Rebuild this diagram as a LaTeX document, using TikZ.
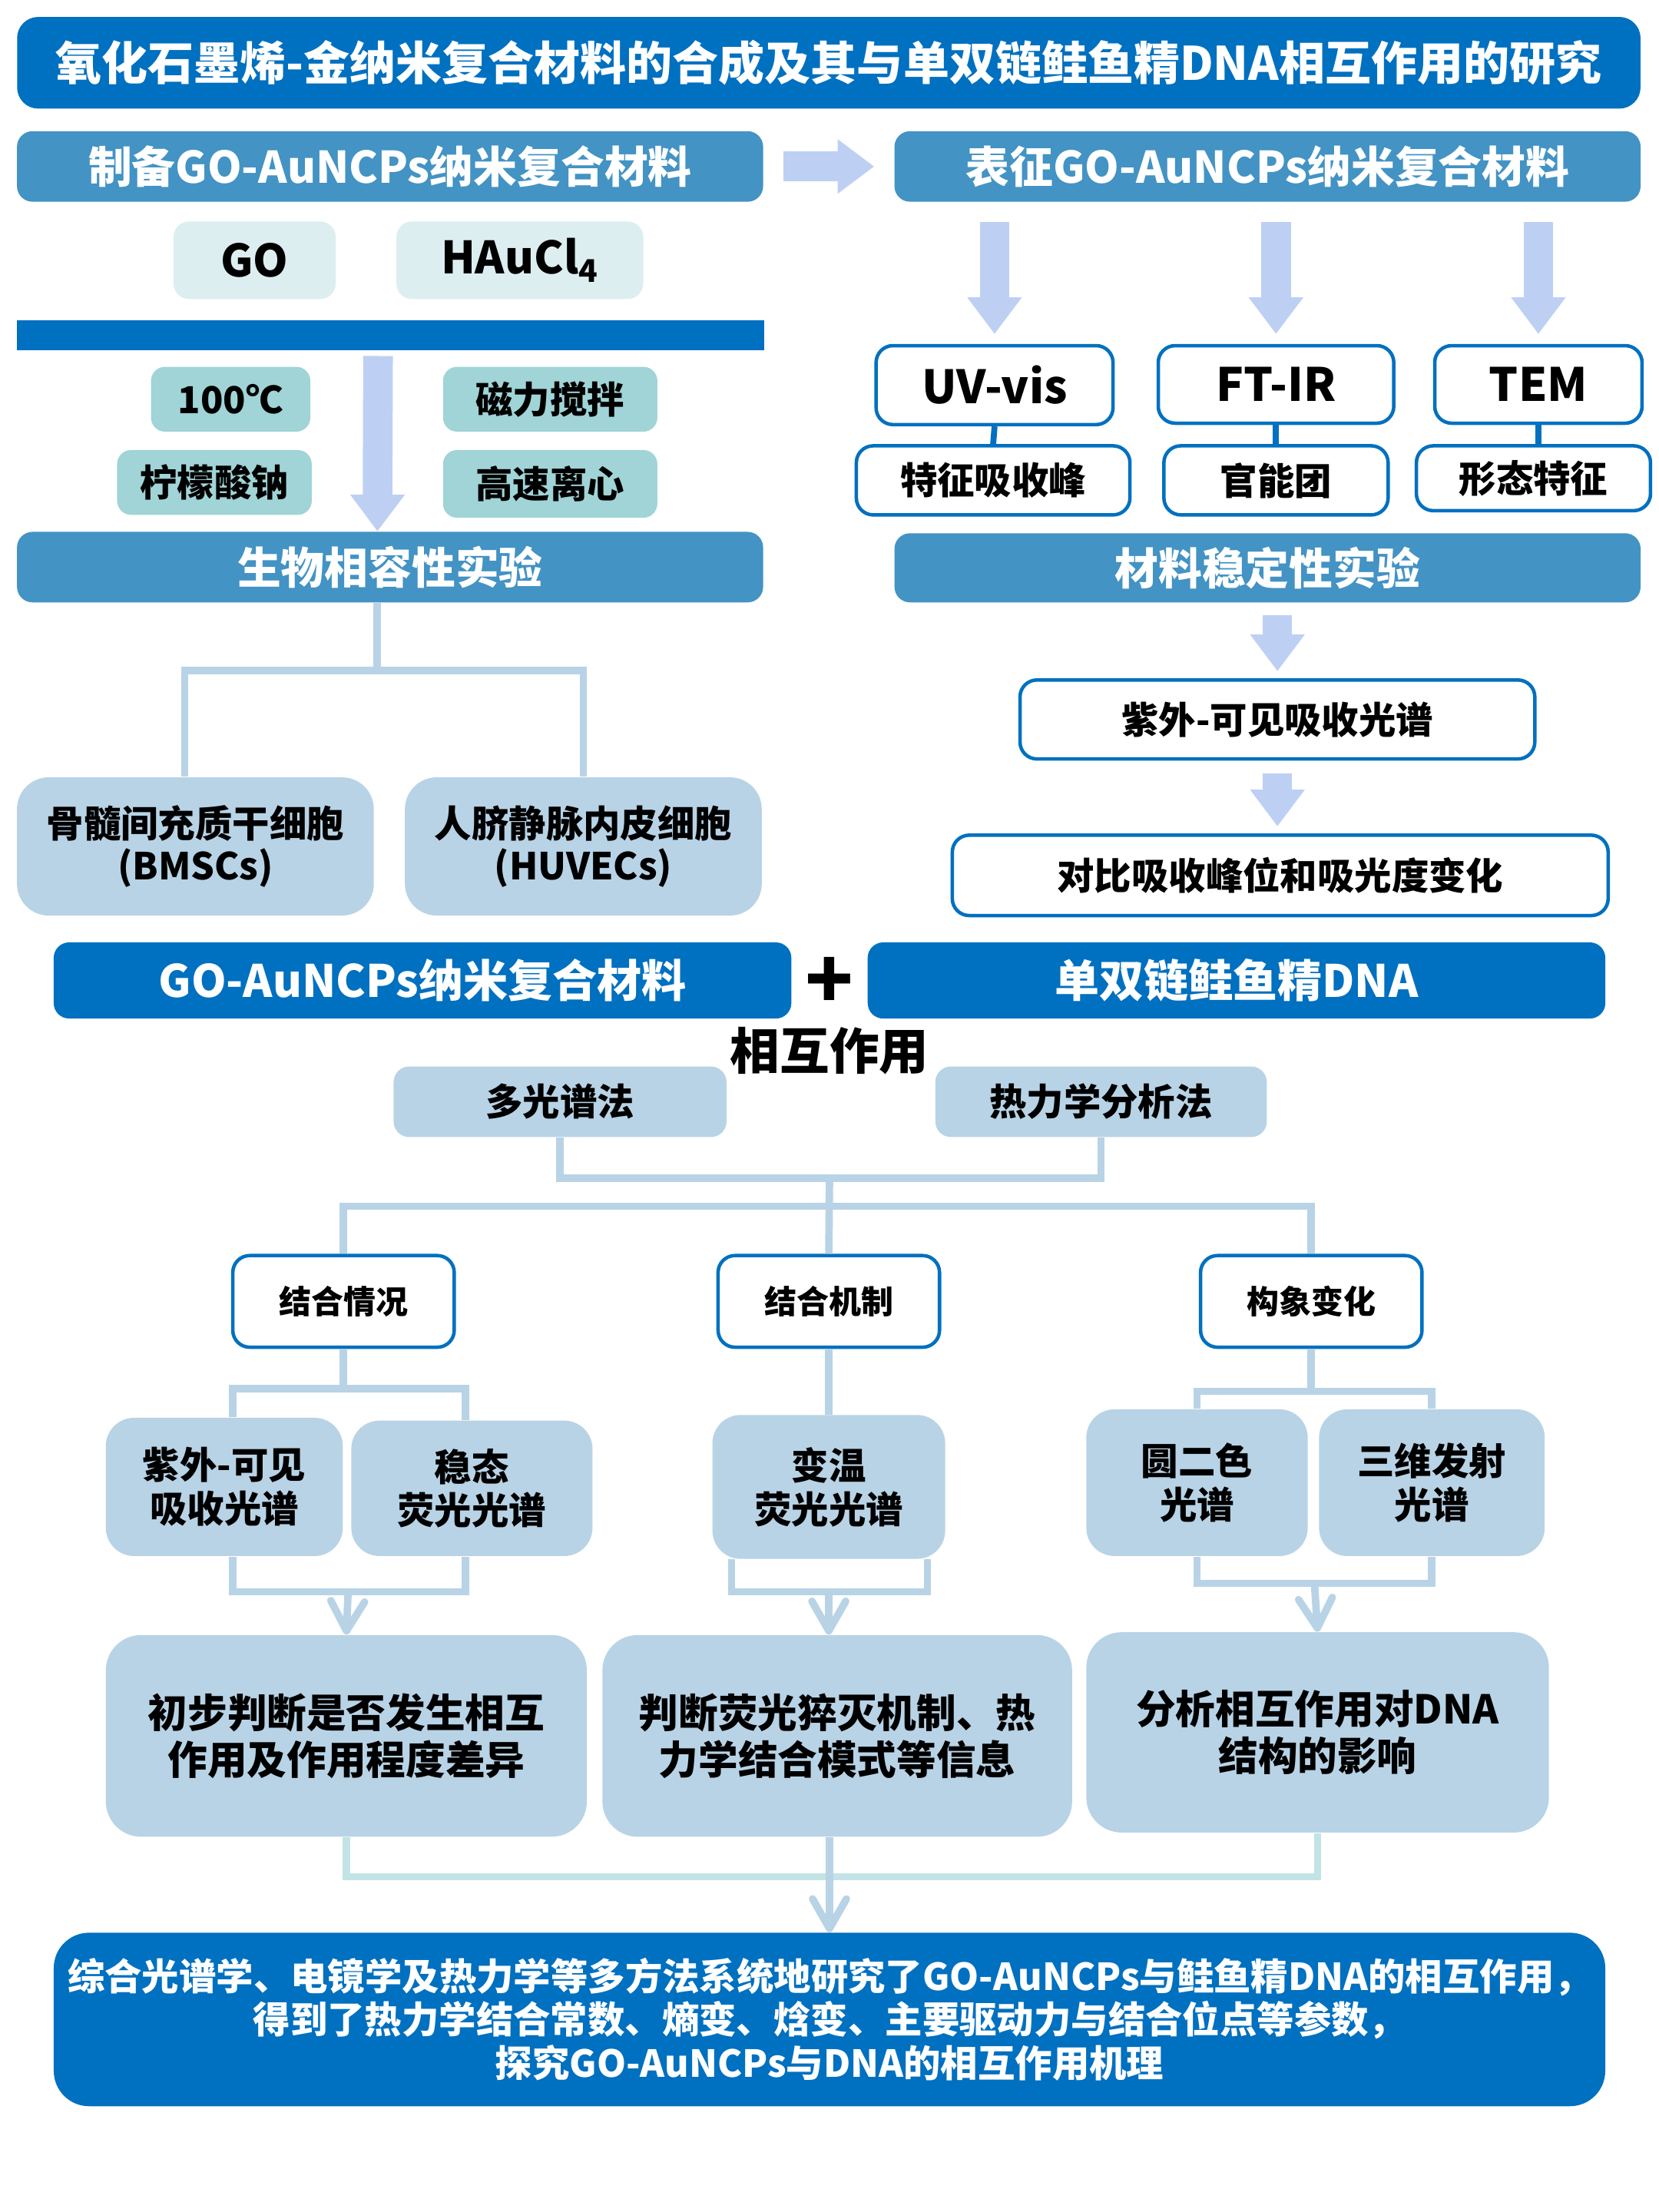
\documentclass[tikz,border=0pt]{standalone}
\usepackage{fontspec}
\setmainfont{Noto Sans CJK SC}
\usetikzlibrary{arrows.meta,calc}
\definecolor{deepblue}{HTML}{0070C0}
\definecolor{midblue}{HTML}{4393C4}
\definecolor{arrowblue}{HTML}{BDD0F4}
\definecolor{paleblue}{HTML}{B8D3E6}
\definecolor{palecyan}{HTML}{DCEEF0}
\definecolor{tealbox}{HTML}{A0D4D7}
\definecolor{paleteal}{HTML}{C3E4E6}
\tikzset{
  fs/.style 2 args={font=\fontsize{#1}{#2}\selectfont\bfseries},
  titlebox/.style={fill=deepblue,text=white,rounded corners=0.3cm,fs={18.6}{22}},
  hdr/.style={fill=midblue,text=white,rounded corners=0.22cm,minimum width=10.58cm,minimum height=1cm,fs={17.6}{20}},
  bluebar/.style={fill=deepblue,text=white,rounded corners=0.22cm,minimum width=10.46cm,minimum height=1.08cm,fs={18}{20}},
  rawbox/.style={fill=palecyan,rounded corners=0.22cm,minimum height=1.1cm,fs={18}{20}},
  cond/.style={fill=tealbox,rounded corners=0.2cm,minimum height=0.92cm,fs={15}{17}},
  cellbox/.style={fill=paleblue,rounded corners=0.45cm,minimum width=5.06cm,minimum height=1.96cm,fs={15}{17}},
  wbox/.style={draw=deepblue,line width=1.4pt,fill=white,rounded corners=0.24cm,fs={15}{17}},
  lbox/.style={fill=paleblue,rounded corners=0.4cm,fs={15}{17.6}},
  conn/.style={draw=paleblue,line width=3pt},
  link/.style={draw=deepblue,line width=2.4pt},
  barrow/.style={draw=arrowblue,line width=0.42cm,-{Triangle[length=0.52cm,width=0.74cm]}},
  barb/.style={-{Straight Barb[length=0.42cm,width=0.48cm,round]}}
}
\begin{document}
\begin{tikzpicture}[x=0.02cm,y=-0.02cm,every node/.style={inner sep=2pt,align=center}]
\useasboundingbox (0,0) rectangle (1176,1568);
% title
\node[titlebox,minimum width=23.02cm,minimum height=1.3cm] (title) at (587.5,44.5) {氧化石墨烯-金纳米复合材料的合成及其与单双链鲑鱼精DNA相互作用的研究};
% preparation
\node[hdr] (prep) at (276.5,118) {制备GO-AuNCPs纳米复合材料};
\node[hdr] (char) at (898.5,118) {表征GO-AuNCPs纳米复合材料};
\node[rawbox,minimum width=2.3cm] (go) at (180.5,184.5) {GO};
\node[rawbox,minimum width=3.5cm] (hau) at (368.5,184.5) {HAuCl\textsubscript{4}};
\node[fill=deepblue,minimum width=10.6cm,minimum height=0.42cm,inner sep=0] (bar) at (277,237.5) {};
\node[cond,minimum width=2.26cm] (temp) at (163.5,283) {100℃};
\node[cond,minimum width=3.04cm] (stir) at (390,283) {磁力搅拌};
\node[cond,minimum width=2.76cm] (citr) at (152,342) {柠檬酸钠};
\node[cond,minimum width=3.04cm,minimum height=0.96cm] (cent) at (390,343) {高速离心};
\node[hdr] (bio) at (276.5,402) {生物相容性实验};
\node[cellbox] (bmsc) at (138.5,600) {骨髓间充质干细胞\\(BMSCs)};
\node[cellbox] (huvec) at (413.5,600) {人脐静脉内皮细胞\\(HUVECs)};
% characterisation
\node[wbox,minimum width=3.36cm,minimum height=1.12cm,fs={18.5}{20}] (uv) at (705,273) {UV-vis};
\node[wbox,minimum width=3.34cm,minimum height=1.1cm,fs={18.5}{20}] (ftir) at (904.5,272.5) {FT-IR};
\node[wbox,minimum width=2.94cm,minimum height=1.1cm,fs={18.5}{20}] (tem) at (1090.5,272.5) {TEM};
\node[wbox,minimum width=3.88cm,minimum height=0.98cm] (uvp) at (704,340.5) {特征吸收峰};
\node[wbox,minimum width=3.18cm,minimum height=0.98cm] (ftirp) at (904.5,340.5) {官能团};
\node[wbox,minimum width=3.32cm,minimum height=0.92cm] (temp2) at (1087,339) {形态特征};
\node[hdr,minimum height=0.98cm] (stab) at (898.5,402.5) {材料稳定性实验};
\node[wbox,minimum width=7.3cm,minimum height=1.12cm] (uvvis) at (905.5,510) {紫外-可见吸收光谱};
\node[wbox,minimum width=9.3cm,minimum height=1.14cm] (cmp) at (907.5,620.5) {对比吸收峰位和吸光度变化};
% interaction
\node[bluebar] (nano) at (299.5,695) {GO-AuNCPs纳米复合材料};
\node[fs={32}{32}] (plus) at (588,697) {+};
\node[bluebar] (dna) at (876.5,695) {单双链鲑鱼精DNA};
\node[fs={20}{22}] (inter) at (588,745) {相互作用};
\node[lbox,rounded corners=0.22cm,minimum width=4.72cm,minimum height=1cm] (multi) at (397,781) {多光谱法};
\node[lbox,rounded corners=0.22cm,minimum width=4.7cm,minimum height=1cm] (thermo) at (780.5,781) {热力学分析法};
\node[wbox,minimum width=3.14cm,minimum height=1.3cm,fs={13}{15}] (bind) at (243.5,922.5) {结合情况};
\node[wbox,minimum width=3.14cm,minimum height=1.3cm,fs={13}{15}] (mech) at (587.5,922.5) {结合机制};
\node[wbox,minimum width=3.14cm,minimum height=1.3cm,fs={13}{15}] (conf) at (929.5,922.5) {构象变化};
\node[lbox,minimum width=3.36cm,minimum height=1.96cm] (uvs) at (159,1054) {紫外-可见\\吸收光谱};
\node[lbox,minimum width=3.42cm,minimum height=1.92cm] (steady) at (334.5,1055) {稳态\\荧光光谱};
\node[lbox,minimum width=3.3cm,minimum height=2.04cm] (vart) at (587.5,1054) {变温\\荧光光谱};
\node[lbox,minimum width=3.14cm,minimum height=2.08cm] (cd) at (848.5,1051) {圆二色\\光谱};
\node[lbox,minimum width=3.2cm,minimum height=2.08cm] (emis) at (1015,1051) {三维发射\\光谱};
\node[lbox,rounded corners=0.5cm,minimum width=6.82cm,minimum height=2.86cm,fs={16}{19}] (res1) at (245.5,1230.5) {初步判断是否发生相互\\作用及作用程度差异};
\node[lbox,rounded corners=0.5cm,minimum width=6.66cm,minimum height=2.86cm,fs={16}{19}] (res2) at (593.5,1230.5) {判断荧光猝灭机制、热\\力学结合模式等信息};
\node[lbox,rounded corners=0.5cm,minimum width=6.56cm,minimum height=2.84cm,fs={16}{19}] (res3) at (934,1228) {分析相互作用对DNA\\结构的影响};
\node[titlebox,rounded corners=0.5cm,minimum width=22cm,minimum height=2.46cm,fs={15}{17.6}] (final) at (588,1431.5) {综合光谱学、电镜学及热力学等多方法系统地研究了GO-AuNCPs与鲑鱼精DNA的相互作用，\\得到了热力学结合常数、熵变、焓变、主要驱动力与结合位点等参数，\\探究GO-AuNCPs与DNA的相互作用机理};
% block arrows
\draw[barrow,shorten <=0.28cm,shorten >=0.28cm] (prep.east) -- (char.west);
\draw[barrow] ([xshift=-0.18cm,yshift=-0.08cm]bar.south) -- ([xshift=-0.18cm]bio.north);
\foreach \t in {uv,ftir,tem}
  \draw[barrow,shorten <=0.28cm,shorten >=0.14cm] (char.south -| \t.north) -- (\t.north);
\draw[barrow,shorten <=0.18cm,shorten >=0.1cm] (stab.south -| uvvis.north) -- (uvvis.north);
\draw[barrow,shorten <=0.18cm,shorten >=0.1cm] (uvvis.south) -- (uvvis.south |- cmp.north);
% small links
\draw[link] (uv.south) -- (uvp.north);
\draw[link] (ftir.south) -- (ftirp.north);
\draw[link] (tem.south) -- (tem.south |- temp2.north);
% tree lines
\draw[conn] ([xshift=-0.18cm]bio.south) -- ++(0,48) coordinate (bj);
\draw[conn] ([xshift=-0.15cm]bmsc.north) |- (bj) -| (huvec.north);
\draw[conn] (multi.south) -- ++(0,29) -| (thermo.south);
\coordinate (j1) at (588,835);
\coordinate (j2) at (588,855);
\draw[conn] (j1) -- (mech.north);
\draw[conn] (bind.north) |- (j2) -| (conf.north);
\draw[conn] (bind.south) -- ++(0,28) coordinate (j3);
\draw[conn] ([xshift=0.12cm]uvs.north) |- (j3) -| ([xshift=-0.09cm]steady.north);
\draw[conn] (mech.south) -- (vart.north);
\draw[conn] (conf.south) -- ++(0,30) coordinate (j4);
\draw[conn] (cd.north) |- (j4) -| (emis.north);
% lower brackets
\draw[conn] ([xshift=0.12cm]uvs.south) -- ++(0,25) -| ([xshift=-0.09cm]steady.south);
\draw[conn,barb] ($(uvs.south)!.5!(steady.south)+(0,25)$) -- (res1.north);
\draw[conn] ([xshift=0.28cm]vart.south west) -- ++(0,23) -| ([xshift=-0.26cm]vart.south east);
\draw[conn,barb] ($(vart.south)+(0,23)$) -- (vart.south |- res2.north);
\draw[conn] (cd.south) -- ++(0,19) -| (emis.south);
\draw[conn,barb] ($(cd.south)!.5!(emis.south)+(0,19)$) -- (res3.north);
\draw[conn,draw=paleteal] (res1.south) -- ++(0,28) -| (res3.south);
\draw[conn,barb] (res2.south -| final.north) -- (final.north);
\end{tikzpicture}
\end{document}
